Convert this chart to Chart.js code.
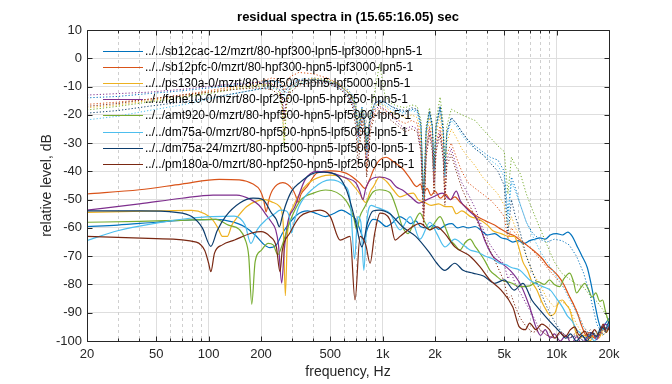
<!DOCTYPE html>
<html>
<head>
<meta charset="utf-8">
<script src="https://cdn.jsdelivr.net/npm/chart.js@4.4.1/dist/chart.umd.min.js"></script>
<style>
html, body { margin: 0; padding: 0; background: #fff; }
</style>
</head>
<body>
<canvas id="c" width="672" height="384"></canvas>
<script>
// tick labels
const xTicks = [20, 50, 100, 200, 500, 1000, 2000, 5000, 10000, 20000];
const xTickText = ['20', '50', '100', '200', '500', '1k', '2k', '5k', '10k', '20k'];
const xMinor = [30, 40, 60, 70, 80, 90, 300, 400, 600, 700, 800, 900, 3000, 4000, 6000, 7000, 8000, 9000];

const names = [
  '../../sb12cac-12/mzrt/80-hpf300-lpn5-lpf3000-hpn5-1',
  '../../sb12pfc-0/mzrt/80-hpf300-hpn5-lpf3000-lpn5-1',
  '../../ps130a-0/mzrt/80-hpf500-hpn5-lpf5000-lpn5-1',
  '../../fane10-0/mzrt/80-lpf2500-lpn5-hpf250-hpn5-1',
  '../../amt920-0/mzrt/80-hpf500-hpn5-lpf5000-lpn5-1',
  '../../dm75a-0/mzrt/80-hpf500-hpn5-lpf5000-lpn5-1',
  '../../dm75a-24/mzrt/80-hpf500-hpn5-lpf5000-lpn5-1',
  '../../pm180a-0/mzrt/80-hpf250-hpn5-lpf2500-lpn5-1'
];

// residual spectra: [frequency Hz, level dB]
const sb12cac = [[20,-59.5],[30,-59],[50,-58],[80,-57.2],[110,-57],[135,-57.8],[160,-59.5],[185,-62.5],[205,-65.5],[225,-67],[245,-66],[265,-62],[290,-58.5],[320,-55.5],[370,-54],[420,-55],[470,-56],[520,-55],[580,-53.7],[640,-55],[700,-57],[745,-61],[780,-64],[820,-60],[880,-57],[950,-57.5],[1050,-59.5],[1150,-58],[1250,-56],[1350,-57],[1450,-58.5],[1550,-57.5],[1650,-59.5],[1800,-60],[1950,-59],[2100,-60.5],[2300,-59],[2500,-58.5],[2700,-60],[2900,-59.5],[3100,-60],[3400,-59.5],[3700,-61],[4000,-62.5],[4400,-62],[4800,-63.5],[5200,-64],[5600,-65],[6000,-64.5],[6500,-65.5],[7000,-64.5],[7500,-64],[8000,-63.5],[8600,-64],[9200,-62.5],[10000,-62],[10800,-62.5],[11600,-61.5],[12300,-63],[13000,-66],[14000,-70],[15000,-74],[15800,-80],[16600,-87],[17400,-93],[18200,-96],[19000,-94],[20000,-92]];
const sb12pfc = [[20,-48],[40,-46.5],[70,-44.5],[115,-42.8],[150,-43],[180,-44.5],[197,-46.6],[207,-50],[214,-54.3],[222,-50],[233,-46.6],[267,-44],[305,-46.6],[318,-49],[326,-51],[340,-48],[368,-45.4],[420,-40.6],[510,-39.8],[620,-40.7],[735,-44],[790,-46],[840,-43],[885,-39.5],[960,-36],[1050,-35],[1150,-36.5],[1300,-39],[1420,-42],[1570,-45.4],[1650,-44.5],[1720,-47.5],[1800,-46],[1900,-48.5],[2000,-47],[2150,-49.5],[2300,-48],[2450,-50],[2600,-49],[2800,-51],[3000,-52.5],[3200,-54],[3500,-56],[3900,-57.5],[4400,-59],[4800,-60.5],[5300,-62],[5800,-63],[6200,-64.5],[6700,-66],[7200,-67.5],[7700,-69],[8300,-71],[8900,-73.5],[9500,-75],[10200,-77],[11000,-80],[11800,-84],[12500,-87],[13300,-91],[14000,-95],[14800,-98],[15500,-97],[16500,-99],[17500,-97.5],[18500,-95],[19300,-96.5],[20000,-94]];
const ps130a = [[20,-54.5],[50,-54],[80,-53.8],[95,-55],[105,-57],[113,-60],[120,-63],[128,-63],[136,-59],[147,-56],[165,-52.5],[185,-50.7],[211,-50],[235,-51],[256,-52.5],[268,-58],[276,-84],[284,-62],[306,-52.5],[350,-46],[400,-43],[496,-41.3],[620,-42.5],[735,-47.7],[800,-51],[850,-47],[885,-45.4],[960,-42],[1050,-43.5],[1150,-46.5],[1260,-49],[1400,-48],[1500,-47.7],[1600,-50],[1750,-51],[1900,-52],[2100,-51.5],[2300,-52.5],[2500,-52.5],[2650,-55],[2850,-54],[3200,-56],[3600,-57],[4000,-59],[4300,-61],[4800,-62],[5300,-63],[5700,-63],[6000,-66],[6400,-72],[6800,-75],[7200,-79],[7700,-82],[8200,-86],[8700,-89],[9200,-91],[9800,-90],[10300,-86],[10800,-85.5],[11300,-87],[11900,-89],[12400,-93],[12900,-97],[13500,-99],[14500,-98],[15500,-100],[16500,-98],[17500,-99],[18500,-96],[19300,-97],[20000,-95]];
const fane10 = [[20,-53.7],[40,-51.5],[70,-49.5],[106,-48.4],[145,-48.4],[175,-50],[195,-52],[212,-55],[230,-58],[243,-60.7],[252,-66],[263,-79.5],[272,-68],[285,-58],[313,-52.5],[358,-43],[420,-40],[510,-40.6],[620,-42.4],[700,-44],[740,-47],[770,-50],[800,-46],[850,-43],[960,-42],[1100,-43],[1200,-45.5],[1300,-46.6],[1450,-49],[1620,-51.2],[1800,-50],[1960,-49],[2200,-47.7],[2450,-50],[2650,-47],[2800,-50.5],[3100,-53.7],[3500,-57],[3900,-65],[4300,-70],[4700,-72],[5400,-75],[6200,-80],[7000,-88],[7600,-95],[8100,-98],[8600,-96],[9200,-99],[9700,-97.5],[10500,-100],[11300,-98],[12200,-101],[13000,-98.5],[14000,-101],[15000,-99],[16000,-97],[17000,-99.5],[18000,-96],[19000,-94],[20000,-95]];
const amt920 = [[20,-58],[40,-57.7],[70,-57.3],[110,-57],[130,-59],[150,-60.5],[162,-64],[170,-70],[177,-87],[185,-72],[200,-68],[220,-65.5],[235,-66],[250,-69.5],[265,-66],[285,-60],[306,-55],[340,-50],[400,-47.7],[470,-46.6],[610,-50],[680,-56],[710,-60.7],[740,-56],[790,-52.5],[880,-47.3],[960,-46.5],[1100,-47.5],[1200,-53],[1300,-59.6],[1400,-62],[1520,-58],[1640,-54.8],[1750,-58],[1870,-60.7],[2000,-58],[2140,-56],[2300,-60],[2440,-64],[2600,-66],[2780,-67.8],[3000,-65],[3180,-64],[3400,-66.5],[3630,-69],[3900,-72],[4140,-75],[4500,-77],[4800,-78.4],[5500,-79.5],[6150,-80.8],[7000,-80.5],[7800,-79],[8500,-80],[9100,-78.4],[9700,-80],[10400,-80.8],[11000,-78],[11900,-76],[12500,-79],[13000,-83],[13800,-81],[14500,-79.6],[15300,-82],[16000,-84.5],[16800,-83],[17700,-86],[18400,-85.5],[19000,-89],[19600,-92],[20000,-94]];
const dm75a = [[20,-64.5],[30,-61],[50,-58.3],[80,-56.5],[105,-56],[140,-55.8],[162,-59],[175,-65.5],[190,-60.7],[215,-57],[240,-55],[258,-53.7],[280,-54],[293,-57],[300,-61.8],[310,-58],[330,-52.5],[400,-46],[500,-43],[600,-45],[650,-50],[690,-71],[720,-56],[750,-58],[780,-75],[810,-58],[860,-52],[904,-52.5],[1000,-53.5],[1100,-54.8],[1260,-60.7],[1440,-56],[1640,-64],[1870,-58],[2050,-62],[2280,-66.7],[2600,-64],[2900,-66],[3180,-67.8],[3500,-68.5],[3900,-70],[4300,-71],[4700,-72.5],[5100,-73],[5500,-74],[6150,-75],[7000,-78.4],[7800,-80],[8500,-81],[9200,-82],[10000,-85],[10800,-88],[11500,-91],[12300,-93],[13000,-96],[13600,-97],[14500,-99],[15500,-98],[16500,-100],[17500,-97],[18500,-95.5],[19300,-97],[20000,-93]];
const dm75a24 = [[20,-54],[40,-54],[65,-54.5],[80,-56],[92,-60],[103,-66.5],[112,-61],[125,-56],[151,-51.2],[180,-49.5],[205,-50],[230,-54.8],[245,-57],[255,-59.6],[265,-56],[275,-52.5],[300,-47],[334,-44],[400,-40.7],[460,-40.3],[560,-42],[620,-46.6],[660,-52],[700,-58],[760,-66.7],[820,-58],[880,-54],[960,-53.7],[1100,-55],[1300,-59.6],[1550,-63],[1870,-69],[2050,-72.5],[2280,-75],[2600,-72.5],[2900,-75],[3300,-76],[3800,-77],[4400,-79.6],[5000,-78.4],[5700,-82],[6400,-79.6],[7200,-85.5],[8000,-89],[9000,-92.6],[9800,-95],[10500,-97],[11300,-99],[12000,-97.5],[13000,-100],[14000,-98],[15000,-100],[16000,-97],[17000,-98.5],[18000,-95],[19000,-96],[20000,-93]];
const pm180a = [[20,-63],[50,-63.8],[85,-65],[95,-68],[100,-72.5],[103,-75.5],[108,-69],[120,-66],[141,-64.3],[177,-61.8],[200,-61.3],[225,-63],[245,-66.7],[257,-75.5],[265,-68],[293,-61.8],[335,-56],[383,-54.3],[437,-53.7],[500,-56],[570,-64.3],[650,-63],[694,-85.5],[742,-63],[800,-66],[847,-72.5],[900,-62],[966,-54.8],[1100,-57],[1180,-64.3],[1260,-63],[1450,-60],[1640,-58.4],[1870,-60.7],[2050,-59.6],[2280,-62],[2600,-66.7],[3180,-70],[3620,-73.7],[4140,-78.4],[4800,-82],[5600,-88],[6100,-95],[6600,-96],[7000,-93.7],[7600,-96],[8200,-94],[9100,-96],[9800,-99],[10400,-97],[11200,-98.5],[12000,-96],[12700,-95],[13500,-98],[14500,-96.5],[15500,-99],[16500,-96],[17500,-98],[18500,-94],[19300,-97],[20000,-95]];

// total spectra (dotted), shared frequency list
const fTot = [20,30,45,70,100,140,190,230,255,265,272,280,295,330,400,480,560,630,670,700,725,760,785,810,850,900,960,1030,1120,1230,1350,1470,1580,1660,1720,1780,1860,1930,1975,2030,2140,2230,2280,2340,2480,2650,2850,3100,3400,3750,4150,4600,5000,5250,5500,5800,6200,6700,7300,8000,8800,9700,10700,11800,13000,14300,15600,17000,18500,20000];
const sb12cacTot = [-14,-13.5,-12.5,-11.5,-10.5,-9.5,-8.5,-8,-8.5,-10,-12,-11,-9,-7.5,-7,-7.5,-9,-11,-13,-16,-24,-17,-20,-30,-20,-16,-15,-15.5,-17,-18.5,-19,-18,-18.5,-24,-52,-26,-19,-24,-40,-24,-17,-26,-42,-27,-21,-23,-26,-29,-31,-33,-35,-36,-40,-55,-42,-46,-52,-58,-62,-64,-65,-64,-64.5,-66,-70,-76,-84,-94,-98,-94];
const sb12pfcTot = [-16.3,-15.5,-14.5,-13,-11.5,-10,-8.5,-7,-7.5,-9,-12,-9,-6.5,-5,-5.5,-7,-9,-12,-15,-20,-32,-20,-25,-40,-24,-19,-17.5,-18.5,-20,-22,-23,-22,-23,-30,-58,-32,-24,-30,-46,-30,-24,-33,-50,-34,-30,-35,-40,-44,-46,-48,-50,-53,-56,-64,-60,-62,-64,-66,-68,-71,-74,-77,-80,-84,-89,-95,-98,-99,-97,-95];
const ps130aTot = [-17.5,-16.5,-15,-13.5,-12,-10.5,-9.5,-9,-11,-16,-30,-15,-10,-8,-7,-7.5,-9,-11.5,-14,-17,-25,-18,-22,-33,-21,-17,-16,-17,-19,-20,-21,-20,-21,-27,-55,-28,-21,-27,-42,-27,-20,-29,-45,-30,-25,-28,-32,-35,-38,-42,-45,-48,-52,-60,-56,-60,-64,-70,-76,-80,-85,-88,-86,-88,-94,-98,-99,-97,-98,-96];
const fane10Tot = [-13,-12.5,-12,-11,-10,-9,-8.5,-9,-11,-14,-20,-14,-10,-8,-7.5,-8.5,-10,-13,-16,-19,-28,-19,-23,-36,-22,-18,-17,-18,-20,-23,-25,-24,-25,-32,-55,-33,-25,-31,-44,-31,-26,-35,-48,-36,-32,-38,-44,-48,-53,-60,-66,-70,-73,-78,-76,-80,-83,-87,-91,-96,-98,-99,-97,-99,-98,-100,-97,-99,-96,-95];
const amt920Tot = [-18.3,-17,-15.5,-14,-12.5,-11,-10,-9.5,-12,-18,-32,-17,-11,-8.5,-7.5,-8,-9.5,-12,-14,-17,-26,-18,-21,-30,-19,-12,-2,-13,-16,-17,-17.5,-16.5,-17,-22,-50,-24,-17.5,-23,-38,-22,-13.7,-23,-38,-24,-18,-19,-20,-21,-22,-25,-28,-31,-33,-48,-35,-38,-41,-48,-54,-60,-66,-72,-76,-78,-80,-81,-84,-86,-89,-93];
const dm75aTot = [-21.8,-20.5,-18.5,-16.5,-14.5,-12.5,-11,-10.5,-11,-12,-13.5,-12,-10.5,-9,-8.5,-9,-10.5,-13,-16,-21,-30,-20,-24,-34,-21,-17,-16,-16.5,-18,-19,-19.5,-18.5,-19,-25,-50,-26,-19.5,-25,-40,-25,-18,-26,-42,-27,-22,-24,-27,-30,-32,-34,-36,-38,-42,-58,-44,-47,-52,-58,-63,-68,-72,-76,-80,-85,-90,-95,-98,-97,-96,-94];
const dm75a24Tot = [-19.4,-18.5,-17,-15.5,-14,-12.5,-11,-10,-10,-11,-12,-11,-9.5,-8,-7.5,-8,-9.5,-12,-14.5,-18,-26,-18,-22,-32,-20,-16,-15,-15.5,-17,-18,-18.5,-17.5,-18,-23,-48,-25,-18.5,-24,-39,-24,-17,-25,-40,-26,-21,-23,-26,-29,-32,-34,-37,-40,-45,-62,-50,-56,-62,-70,-76,-82,-88,-93,-97,-99,-98,-100,-97,-98,-95,-96];
const pm180aTot = [-17,-16,-14.5,-13,-12,-11,-10.5,-11,-13,-16,-22,-16,-12,-9.5,-8.5,-9,-10.5,-13.5,-17,-24,-38,-22,-27,-42,-26,-20,-19,-20,-22,-24,-26,-25,-26,-33,-60,-35,-27,-33,-48,-33,-27,-36,-52,-38,-34,-40,-46,-51,-56,-62,-68,-74,-79,-85,-84,-88,-92,-95,-97,-96,-98,-99,-97,-99,-97,-99,-96,-98,-95,-96];

const residuals = [sb12cac, sb12pfc, ps130a, fane10, amt920, dm75a, dm75a24, pm180a];
const totals = [sb12cacTot, sb12pfcTot, ps130aTot, fane10Tot, amt920Tot, dm75aTot, dm75a24Tot, pm180aTot];
const lineColors = ['#0072bd', '#d95319', '#edb120', '#7e2f8e', '#77ac30', '#4dbeee', '#0c3c6c', '#7a2812'];

const FONT = '"Liberation Sans", Arial, sans-serif';
const INK = '#262626';

var datasets = [];
residuals.forEach(function(r, i) {
	datasets.push({
		label: names[i],
		data: r.map(p => ({x: p[0], y: p[1]})),
		borderColor: lineColors[i],
		borderWidth: 1.2,
		pointRadius: 0,
		fill: false,
		cubicInterpolationMode: 'monotone',
		order: 100 - i
	});
});
totals.forEach(function(t, i) {
	datasets.push({
		label: names[i] + ' (total)',
		data: fTot.map((f, k) => ({x: f, y: t[k]})),
		borderColor: lineColors[i],
		borderWidth: 1,
		borderDash: [1.2, 2],
		pointRadius: 0,
		fill: false,
		tension: 0,
		order: 50 - i
	});
});

// minor grid, box with inward ticks, legend and title (matlab look)
const matlabAxes = {
	id: 'matlabAxes',
	beforeDatasetsDraw(chart) {
		const ctx = chart.ctx, a = chart.chartArea, x = chart.scales.x;
		ctx.save();
		ctx.strokeStyle = '#cfcfcf';
		ctx.lineWidth = 1;
		ctx.setLineDash([3, 3]);
		xMinor.forEach(function(v) {
			const px = Math.round(x.getPixelForValue(v)) + 0.5;
			ctx.beginPath(); ctx.moveTo(px, a.top); ctx.lineTo(px, a.bottom); ctx.stroke();
		});
		ctx.restore();
	},
	afterDatasetsDraw(chart) {
		const ctx = chart.ctx, a = chart.chartArea, x = chart.scales.x, y = chart.scales.y;
		const L = Math.round(a.left) + 0.5, R = Math.round(a.right) + 0.5;
		const T = Math.round(a.top) + 0.5, B = Math.round(a.bottom) + 0.5;
		ctx.save();
		ctx.setLineDash([]);
		ctx.strokeStyle = INK;
		ctx.lineWidth = 1;
		ctx.beginPath();
		ctx.rect(L, T, R - L, B - T);
		// y ticks, left and right
		y.ticks.forEach(function(t) {
			const py = Math.round(y.getPixelForValue(t.value)) + 0.5;
			ctx.moveTo(L, py); ctx.lineTo(L + 5, py);
			ctx.moveTo(R, py); ctx.lineTo(R - 5, py);
		});
		// x ticks, bottom and top
		xTicks.concat(xMinor).forEach(function(v) {
			const px = Math.round(x.getPixelForValue(v)) + 0.5;
			const len = xTicks.indexOf(v) >= 0 ? 5 : 3;
			ctx.moveTo(px, B); ctx.lineTo(px, B - len);
			ctx.moveTo(px, T); ctx.lineTo(px, T + len);
		});
		ctx.stroke();

		// legend, residual series only
		ctx.font = '12px ' + FONT;
		ctx.textBaseline = 'middle';
		ctx.textAlign = 'left';
		names.forEach(function(n, row) {
			const ry = Math.round(51 + row * 16.1) + 0.5;
			ctx.strokeStyle = lineColors[row];
			ctx.lineWidth = 1.2;
			ctx.beginPath(); ctx.moveTo(103, ry); ctx.lineTo(143, ry); ctx.stroke();
			ctx.fillStyle = '#000';
			ctx.fillText(n, 145, ry);
		});

		// title
		ctx.font = 'bold 13px ' + FONT;
		ctx.textAlign = 'center';
		ctx.fillStyle = '#000';
		ctx.fillText('residual spectra in (15.65:16.05) sec', (a.left + a.right) / 2, 17);
		ctx.restore();
	}
};

new Chart(document.getElementById('c'), {
	type: 'line',
	data: { datasets: datasets },
	options: {
		responsive: false,
		animation: false,
		events: [],
		layout: { padding: { top: 30, right: 63, bottom: 0, left: 0 } },
		plugins: { legend: { display: false }, tooltip: { enabled: false }, title: { display: false } },
		scales: {
			x: {
				type: 'logarithmic',
				min: 20,
				max: 20000,
				afterBuildTicks: function(s) { s.ticks = xTicks.map(v => ({value: v})); },
				afterFit: function(s) { s.height = 43; },
				ticks: {
					autoSkip: false, maxRotation: 0, minRotation: 0, padding: 6,
					color: INK, font: { family: FONT, size: 13 },
					callback: function(v) { const k = xTicks.indexOf(v); return k >= 0 ? xTickText[k] : ''; }
				},
				grid: { color: '#dedede', drawTicks: false },
				border: { display: false },
				title: { display: true, text: 'frequency, Hz', color: INK, font: { family: FONT, size: 14 }, padding: { top: 0, bottom: 3.6 } }
			},
			y: {
				type: 'linear',
				min: -100,
				max: 10,
				afterFit: function(s) { s.width = 87; },
				ticks: { stepSize: 10, padding: 5, color: INK, font: { family: FONT, size: 13 } },
				grid: { color: '#dedede', drawTicks: false },
				border: { display: false },
				title: { display: true, text: 'relative level, dB', color: INK, font: { family: FONT, size: 14 }, padding: { top: 38.6, bottom: 0 } }
			}
		}
	},
	plugins: [matlabAxes]
});
</script>
</body>
</html>
